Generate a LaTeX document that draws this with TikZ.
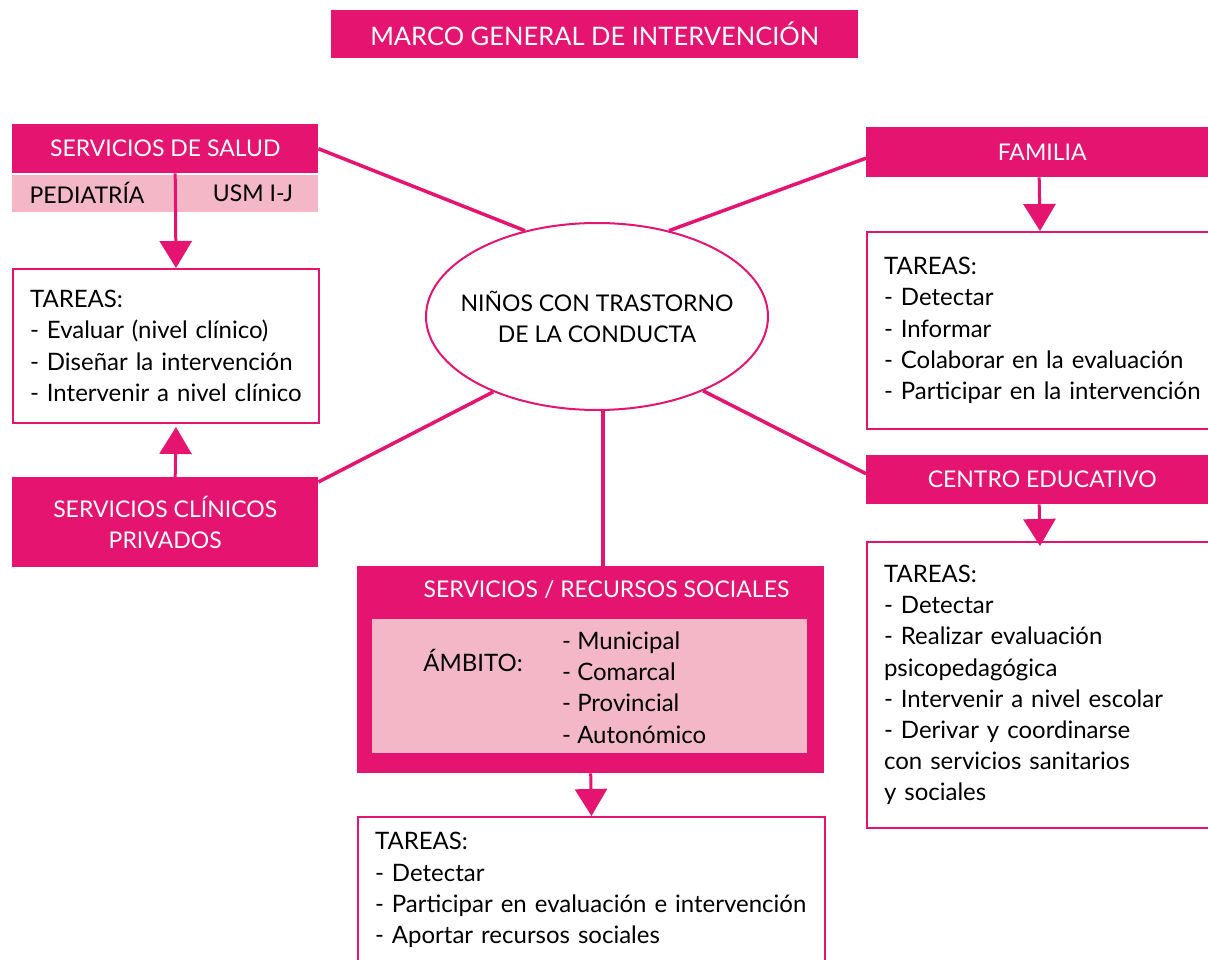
\documentclass[tikz,border=0pt]{standalone}
\usepackage{fontspec}
\setmainfont{Lato}
\usetikzlibrary{shapes.geometric,arrows.meta}
\definecolor{magenta1}{RGB}{228,20,112}
\definecolor{rosa}{RGB}{244,183,200}
\begin{document}
\begin{tikzpicture}[x=1pt,y=-1pt,
  txt/.style={font=\fontsize{23}{31}\selectfont},
  cuerpo/.style={font=\fontsize{24}{31.2}\selectfont},
  oscuro/.style={txt,fill=magenta1,text=white,anchor=north west,inner sep=0pt,align=center},
  claro/.style={fill=rosa,anchor=north west,inner sep=0pt},
  tareas/.style={cuerpo,draw=magenta1,line width=2pt,fill=white,anchor=north west,
    inner xsep=17pt,inner ysep=0pt,align=left},
  enlace/.style={draw=magenta1,line width=3.5pt},
  flecha/.style={draw=magenta1,line width=3pt,-{Triangle[width=32pt,length=27pt]}}]
\useasboundingbox (0,0) rectangle (1208,960);

\node[oscuro,minimum width=527pt,minimum height=48pt,font=\fontsize{25.5}{31}\selectfont] (marco) at (331,10) {MARCO GENERAL DE INTERVENCIÓN};

\node[ellipse,txt,draw=magenta1,line width=2pt,fill=white,inner xsep=-25pt,inner ysep=0pt,align=center,
  minimum width=342pt,minimum height=187pt] (ninos) at (597,316.5) {NIÑOS CON TRASTORNO\\DE LA CONDUCTA};

\node[oscuro,minimum width=306pt,minimum height=49pt] (salud) at (12,124) {SERVICIOS DE SALUD};
\node[claro,minimum width=306pt,minimum height=37pt] (fila) at (12,175) {};
\node[txt] (pediatria) at (87,193) {PEDIATRÍA};
\node[txt] (usm) at (253,193) {USM I-J};
\node[tareas,text width=272pt,minimum height=154pt] (tareasL) at (12,268)
  {TAREAS:\\- Evaluar (nivel clínico)\\- Diseñar la intervención\\- Intervenir a nivel clínico};
\node[oscuro,minimum width=306pt,minimum height=90pt] (clinicos) at (12,477) {SERVICIOS CLÍNICOS\\PRIVADOS};

\node[oscuro,minimum width=352pt,minimum height=50pt] (familia) at (866,127) {FAMILIA};
\node[tareas,text width=318pt,minimum height=197pt] (tareasF) at (866,231)
  {TAREAS:\\- Detectar\\- Informar\\- Colaborar en la evaluación\\- Participar en la intervención};
\node[oscuro,minimum width=352pt,minimum height=49pt] (centro) at (866,455) {CENTRO EDUCATIVO};
\node[tareas,text width=318pt,minimum height=286pt] (tareasC) at (866,541)
  {TAREAS:\\- Detectar\\- Realizar evaluación\\psicopedagógica\\- Intervenir a nivel escolar\\- Derivar y coordinarse\\con servicios sanitarios\\y sociales};

\node[oscuro,minimum width=467pt,minimum height=207pt] (social) at (357,566) {};
\node[txt,text=white] (socialtit) at (606.5,590) {SERVICIOS / RECURSOS SOCIALES};
\node[claro,minimum width=435pt,minimum height=134pt] (ambito) at (372,619) {};
\node[cuerpo] (ambitotit) at (473,660) {ÁMBITO:};
\node[cuerpo,anchor=west,align=left,inner sep=0pt] (niveles) at (562,687.5)
  {- Municipal\\- Comarcal\\- Provincial\\- Autonómico};
\node[tareas,text width=433pt,minimum height=146pt] (tareasS) at (357,816)
  {TAREAS:\\- Detectar\\- Participar en evaluación e intervención\\- Aportar recursos sociales};

\draw[enlace] (salud.east) -- (ninos.130);
\draw[enlace] ([yshift=-6pt]familia.west) -- (ninos.50);
\draw[enlace] ([yshift=-5pt]clinicos.north east) -- (ninos.216);
\draw[enlace] ([yshift=6pt]centro.west) -- (ninos.325);
\draw[enlace] ([xshift=6pt]ninos.south) -- ([xshift=6pt]ninos.south |- social.north);

\draw[flecha] ([xshift=10pt]salud.south) -- ([xshift=10pt]tareasL.north);
\draw[flecha] ([xshift=10pt]clinicos.north) -- ([xshift=10pt,yshift=-3pt]tareasL.south);
\draw[flecha] ([xshift=-3pt]familia.south) -- ([xshift=-3pt]tareasF.north);
\draw[flecha] ([xshift=-3pt]centro.south) -- ([xshift=-3pt,yshift=-5pt]tareasC.north);
\draw[flecha] (social.south) -- (tareasS.north);
\end{tikzpicture}
\end{document}
